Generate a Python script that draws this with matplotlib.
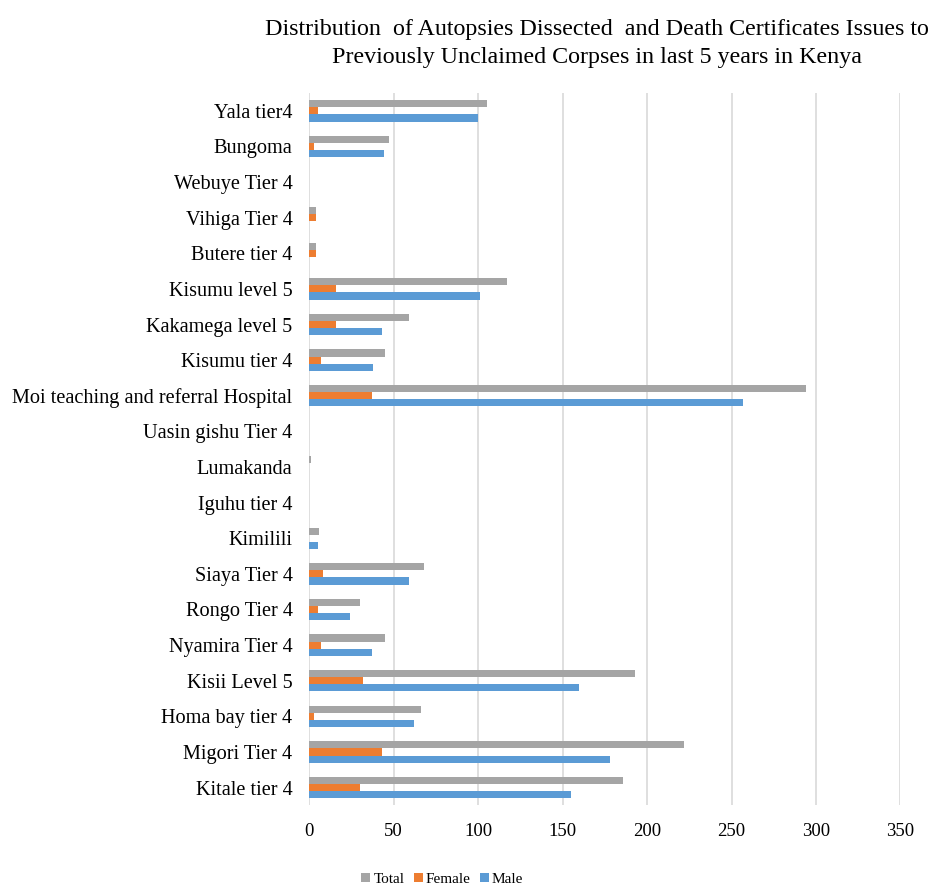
import numpy as np
import matplotlib.pyplot as plt

# hospitals, top to bottom as in the chart
hospitals = ["Yala tier4", "Bungoma", "Webuye Tier 4", "Vihiga Tier 4", "Butere tier 4",
             "Kisumu level 5", "Kakamega level 5", "Kisumu tier 4",
             "Moi teaching and referral Hospital", "Uasin gishu Tier 4", "Lumakanda",
             "Iguhu tier 4", "Kimilili", "Siaya Tier 4", "Rongo Tier 4", "Nyamira Tier 4",
             "Kisii Level 5", "Homa bay tier 4", "Migori Tier 4", "Kitale tier 4"]
total = [105, 47, 0, 4, 4, 117, 59, 45, 294, 0, 1, 0, 6, 68, 30, 45, 193, 66, 222, 186]
female = [5, 3, 0, 4, 4, 16, 16, 7, 37, 0, 0, 0, 0, 8, 5, 7, 32, 3, 43, 30]
male = [100, 44, 0, 0, 0, 101, 43, 38, 257, 0, 0, 0, 5, 59, 24, 37, 160, 62, 178, 155]
xticks = [0, 50, 100, 150, 200, 250, 300, 350]

plt.rcParams['font.family'] = ['Liberation Serif', 'DejaVu Serif']

fig = plt.figure(figsize=(9.37, 8.86), dpi=100)
ax = fig.add_axes([0.33, 0.091, 0.631, 0.804])

y = np.arange(len(hospitals))[::-1]
h = 0.2
ax.barh(y - h, male, height=h, color='#5B9BD5', label='Male', zorder=3)
ax.barh(y, female, height=h, color='#ED7D31', label='Female', zorder=3)
ax.barh(y + h, total, height=h, color='#A5A5A5', label='Total', zorder=3)

ax.set_xlim(0, 350)
ax.set_ylim(-0.5, len(hospitals) - 0.5)
ax.set_xticks(xticks)
ax.set_yticks(y)
ax.set_yticklabels(hospitals, fontsize=14.6)
ax.tick_params(axis='x', labelsize=13.5, length=0, pad=13)
ax.tick_params(axis='y', length=0, pad=12)
ax.grid(axis='x', color='#D9D9D9', linewidth=1.2, zorder=0)
for s in ax.spines.values():
    s.set_visible(False)

fig.suptitle("Distribution  of Autopsies Dissected  and Death Certificates Issues to\n"
             "Previously Unclaimed Corpses in last 5 years in Kenya",
             x=0.637, y=0.978, fontsize=17.3, linespacing=1.4)

handles, labels = ax.get_legend_handles_labels()
ax.legend(handles[::-1], labels[::-1], loc='upper center', bbox_to_anchor=(0.225, -0.075),
          ncol=3, frameon=False, fontsize=11, handlelength=0.6, handleheight=0.6,
          handletextpad=0.2, columnspacing=0.6)

fig.savefig('out.png', dpi=100)
